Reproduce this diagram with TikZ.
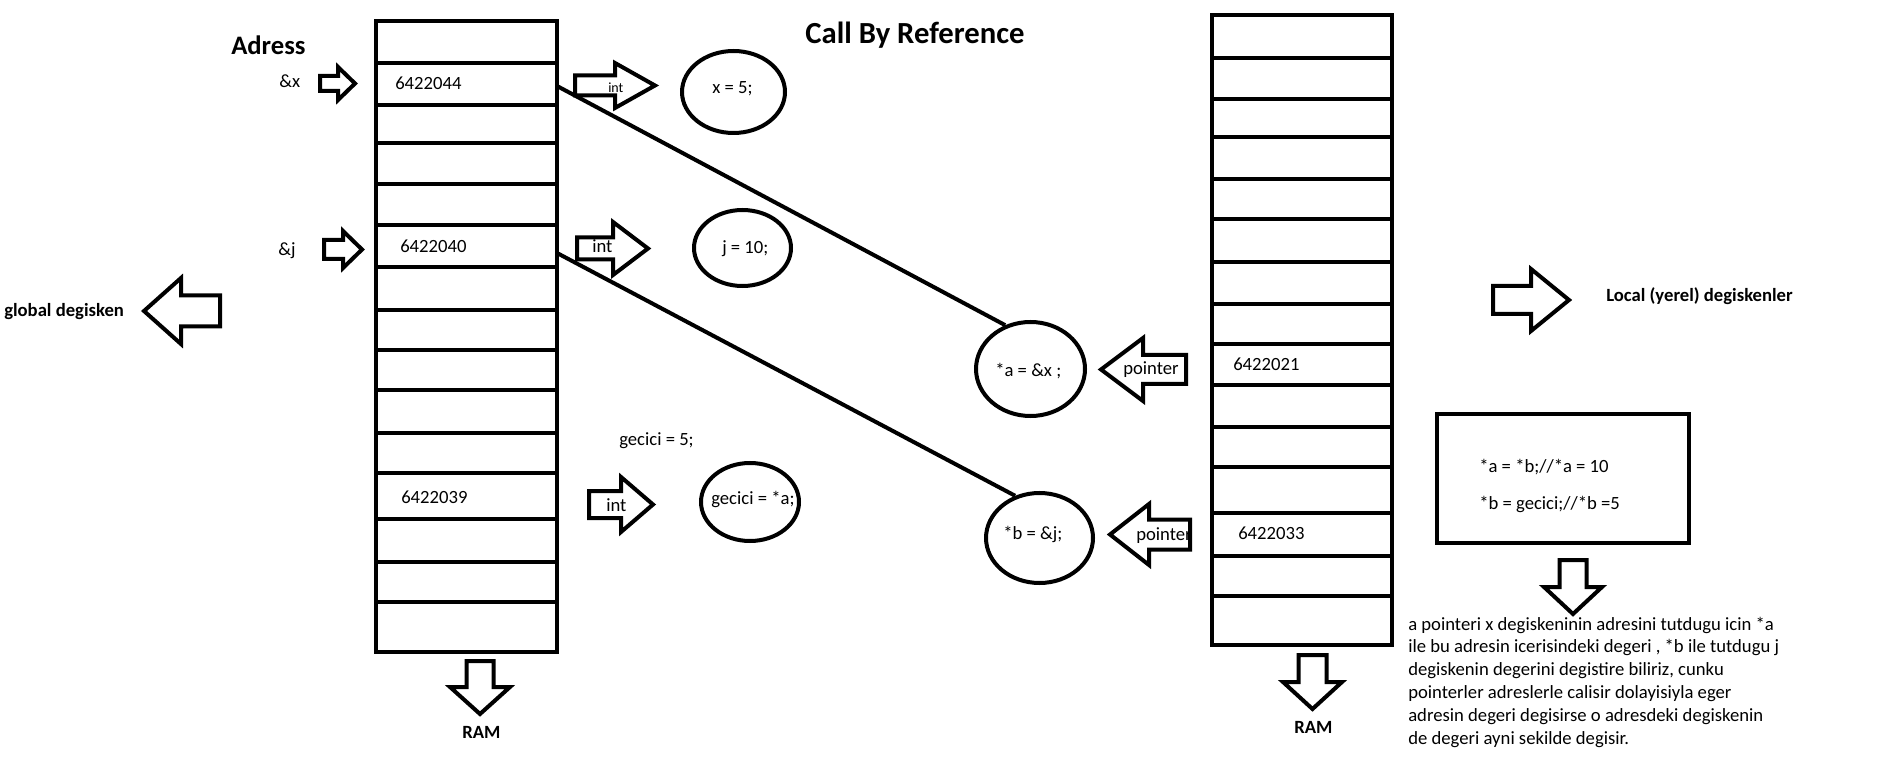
\documentclass[tikz,border=0pt]{standalone}
\usepackage{fontspec}
\setmainfont{Carlito}
\usetikzlibrary{shapes.geometric}

\tikzset{
  ramline/.style={black, line width=3pt},
  varcirc/.style={draw, ellipse, line width=3pt, inner sep=0pt},
  txt/.style={inner sep=0pt, font=\fontsize{14}{17.1}\selectfont},
  btxt/.style={inner sep=0pt, font=\bfseries\fontsize{14}{17.1}\selectfont},
  smalltxt/.style={inner sep=0pt, font=\fontsize{10.5}{12}\selectfont},
  pics/fatarrow/.style args={#1/#2/#3/#4}{code={
    \draw[line width=3pt, line join=miter] (0,-#3) -- ({#1-#2},-#3) -- ({#1-#2},-#4) -- (#1,0)
      -- ({#1-#2},#4) -- ({#1-#2},#3) -- (0,#3) -- cycle;
  }},
}

\begin{document}
\begin{tikzpicture}[x=0.75pt, y=-0.75pt]
        \fill[white] (0,0) rectangle (1877,766);
        \useasboundingbox (0,0) rectangle (1877,766);

        % left RAM
        \draw[ramline] (376,21) rectangle (557,652);
        \foreach \y in {63,105,143,184,225,267,310,350,390,433,473,519,562,602}
            \draw[ramline] (376,\y) -- (557,\y);
        \coordinate (cellx) at (557,86);
        \coordinate (cellj) at (557,253);

        % right RAM
        \draw[ramline] (1212,15) rectangle (1392,645);
        \foreach \y in {58,99,137,179,219,262,304,344,385,427,467,513,556,596}
            \draw[ramline] (1212,\y) -- (1392,\y);

        \node[btxt, font=\bfseries\fontsize{23}{27}\selectfont, anchor=base] (title) at (915,43.5) {Call By Reference};
        \node[btxt, font=\bfseries\fontsize{20}{24}\selectfont, anchor=base west] (adress) at (231,55) {Adress};

        \node[txt, anchor=base west] (ampx) at (279,88) {\&x};
        \node[txt, anchor=base west] (ampj) at (278,256) {\&j};
        \pic at (320,83.5) {fatarrow=35/17/7.5/16.5};
        \pic at (324,249.5) {fatarrow=38/19/9.5/18.5};

        \node[txt, anchor=base west] (adx) at (395,90) {6422044};
        \node[txt, anchor=base west] (adj) at (400,253) {6422040};
        \node[txt, anchor=base west] (adg) at (401,503) {6422039};
        \node[txt, anchor=base west] (ada) at (1233,371) {6422021};
        \node[txt, anchor=base west] (adb) at (1238,539) {6422033};

        % int arrows
        \pic at (575,85.5) {fatarrow=80/40/10/22.5};
        \node[smalltxt, anchor=base west] (int1) at (608,93) {int};
        \pic at (577,248.5) {fatarrow=71/35/11/26.5};
        \node[txt, anchor=base west] (int2) at (592,253) {int};
        \pic at (589,504.5) {fatarrow=64/32/13.5/27.5};
        \node[txt, anchor=base west] (int3) at (606,511) {int};

        % values
        \node[varcirc, minimum width=103*0.75pt, minimum height=82*0.75pt] (xval) at (733.5,92) {};
        \node[txt, anchor=base west] (xtxt) at (712,94) {x = 5;};
        \node[varcirc, minimum width=97*0.75pt, minimum height=76*0.75pt] (jval) at (742.5,248) {};
        \node[txt, anchor=base west] (jtxt) at (722,254) {j = 10;};
        \node[txt, anchor=base west] (gec5) at (619,445) {gecici = 5;};
        \node[varcirc, minimum width=98*0.75pt, minimum height=78*0.75pt] (gval) at (750,502) {};
        \node[txt, anchor=base west] (gtxt) at (711,504) {gecici = *a;};

        % pointers
        \node[varcirc, minimum width=109*0.75pt, minimum height=94*0.75pt] (ptra) at (1030.5,369) {};
        \node[txt, anchor=base west] (atxt) at (995,376.5) {*a = \&x ;};
        \node[varcirc, minimum width=107*0.75pt, minimum height=90*0.75pt] (ptrb) at (1039.5,538) {};
        \node[txt, anchor=base west] (btxt) at (1003,539) {*b = \&j;};
        \draw[ramline] (cellx) -- (ptra.120);
        \draw[ramline] (cellj) -- (ptrb.120);

        \pic[rotate=180] at (1186,369.5) {fatarrow=85/42/14.5/31.5};
        \node[txt, anchor=base west] (pa) at (1123,374) {pointer};
        \pic[rotate=180] at (1190,534.5) {fatarrow=80/39/15/30.5};
        \node[txt, anchor=base west] (pb) at (1136,540) {pointer};

        % side labels
        \pic[rotate=180] at (220,311) {fatarrow=76/37/15.5/33};
        \node[btxt, anchor=base west] (glob) at (4,316.5) {global degisken};
        \pic at (1493,300) {fatarrow=76/38/14/31};
        \node[btxt, anchor=base west] (loc) at (1606,301.5) {Local (yerel) degiskenler};

        % RAM labels
        \pic[rotate=-90] at (480,661) {fatarrow=53/27/13.5/30};
        \node[btxt, anchor=base west] (ram1) at (462,738) {RAM};
        \pic[rotate=-90] at (1312.5,655) {fatarrow=54/27/14/29.5};
        \node[btxt, anchor=base west] (ram2) at (1294,733) {RAM};

        % code box and note
        \draw[ramline] (1437,414) rectangle (1689,543);
        \node[txt, anchor=base west] (code1) at (1479,472.5) {*a = *b;//*a = 10};
        \node[txt, anchor=base west] (code2) at (1479,509) {*b = gecici;//*b =5};
        \pic[rotate=-90] at (1573,560) {fatarrow=54/27/13.5/29};
        \node[txt, anchor=north west, align=left] (note) at (1408,616.5)
            {a pointeri x degiskeninin adresini tutdugu icin *a\\
             ile bu adresin icerisindeki degeri , *b ile tutdugu j\\
             degiskenin degerini degistire biliriz, cunku\\
             pointerler adreslerle calisir dolayisiyla eger\\
             adresin degeri degisirse o adresdeki degiskenin\\
             de degeri ayni sekilde degisir.};
\end{tikzpicture}
\end{document}
